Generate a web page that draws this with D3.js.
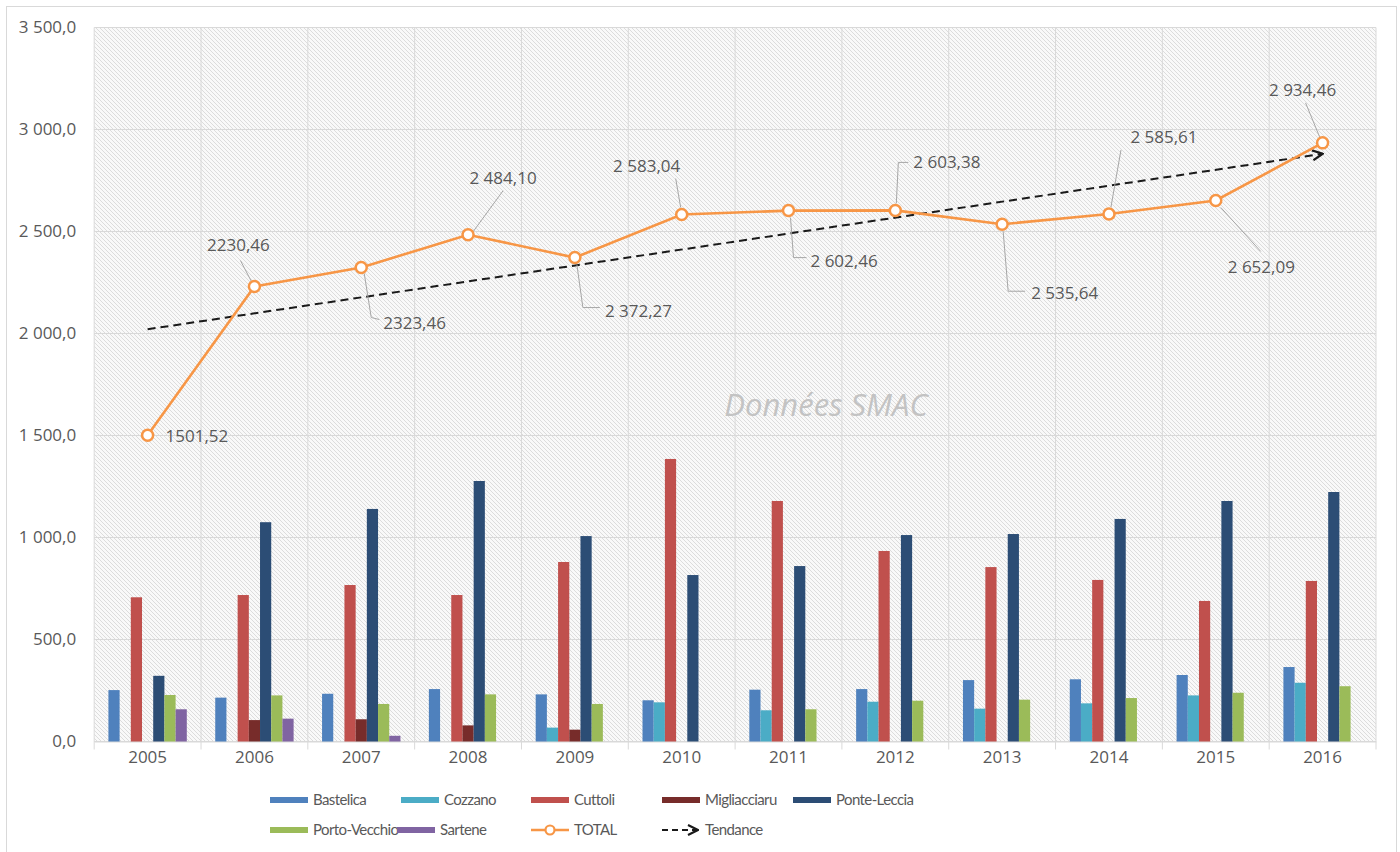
<!DOCTYPE html>
<html>
<head>
<meta charset="utf-8">
<script src="https://cdn.jsdelivr.net/npm/d3@7"></script>
<style>
  html, body { margin: 0; padding: 0; background: #ffffff; }
  svg { display: block; }
</style>
</head>
<body>
<svg id="chart" width="1400" height="852"></svg>
<script>
// ---- Data (tonnages per site and per year) ----
const years = ["2005","2006","2007","2008","2009","2010","2011","2012","2013","2014","2015","2016"];

const bastelica     = [252, 215, 234, 257, 231, 202, 254, 257, 301, 305, 326, 365];
const cozzano       = [0, 0, 0, 0, 68, 192, 153, 195, 161, 187, 226, 288];
const cuttoli       = [707, 718, 767, 718, 880, 1385, 1179, 934, 855, 792, 689, 787];
const migliacciaru  = [0, 105, 109, 79, 58, 0, 0, 0, 0, 0, 0, 0];
const ponteLeccia   = [322, 1075, 1140, 1277, 1007, 816, 860, 1012, 1017, 1091, 1179, 1223];
const portoVecchio  = [228, 226, 184, 231, 184, 0, 158, 200, 205, 213, 239, 271];
const sartene       = [158, 112, 28, 0, 0, 0, 0, 0, 0, 0, 0, 0];

const total = [1501.52, 2230.46, 2323.46, 2484.10, 2372.27, 2583.04, 2602.46, 2603.38, 2535.64, 2585.61, 2652.09, 2934.46];
// printed labels for the TOTAL points
const totalLabels = ["1501,52", "2230,46", "2323,46", "2 484,10", "2 372,27", "2 583,04", "2 602,46", "2 603,38", "2 535,64", "2 585,61", "2 652,09", "2 934,46"];

// trend line values at the first and last year
const tendance = [2020.7, 2880.8];

const yTicks = [0, 500, 1000, 1500, 2000, 2500, 3000, 3500];

const seriesNames  = ["Bastelica", "Cozzano", "Cuttoli", "Migliacciaru", "Ponte-Leccia", "Porto-Vecchio", "Sartene"];
const seriesValues = [bastelica, cozzano, cuttoli, migliacciaru, ponteLeccia, portoVecchio, sartene];
const seriesColors = ["#4F81BD", "#4BACC6", "#C0504D", "#772C2A", "#2C4D75", "#9BBB59", "#8064A2"];
const orange = "#F79646";

// ---- Layout ----
const svg = d3.select("#chart");
const plot = { left: 94.2, right: 1376, top: 27.5, bottom: 741.5 };

const x = d3.scaleBand().domain(years).range([plot.left, plot.right]).padding(0);
const xInner = d3.scaleBand().domain(seriesNames).range([0, x.bandwidth()])
  .paddingInner(0).paddingOuter(1.27);
const y = d3.scaleLinear().domain([0, 3500]).range([plot.bottom, plot.top]);

const fr = d3.formatLocale({ decimal: ",", thousands: " ", grouping: [3], currency: ["", " €"] });
const fmtTick = fr.format(",.1f");

const textColor = "#595959";
const gridColor = "#d9d9d9";
const font = "'Open Sans', sans-serif";

// ---- Defs: hatched plot background, arrow head ----
const defs = svg.append("defs");
const pat = defs.append("pattern")
  .attr("id", "hatch").attr("patternUnits", "userSpaceOnUse")
  .attr("width", 4).attr("height", 4);
pat.append("rect").attr("width", 4).attr("height", 4).attr("fill", "#f9f9f9");
pat.append("path")
  .attr("d", "M-1,-1 L5,5 M-1,3 L1,5 M3,-1 L5,1")
  .attr("stroke", "#dcdcdc").attr("stroke-width", 1);

defs.append("marker")
  .attr("id", "arrow").attr("viewBox", "0 0 12 12")
  .attr("refX", 11).attr("refY", 6)
  .attr("markerWidth", 12).attr("markerHeight", 12)
  .attr("markerUnits", "userSpaceOnUse")
  .attr("orient", "auto")
  .append("path").attr("d", "M1,1 L11,6 L1,11")
  .attr("fill", "none").attr("stroke", "#1a1a1a").attr("stroke-width", 2.2);

// chart frame
svg.append("rect")
  .attr("x", 6.5).attr("y", 6.5).attr("width", 1390).attr("height", 870)
  .attr("fill", "#ffffff").attr("stroke", "#d9d9d9").attr("stroke-width", 1);

// plot background
svg.append("rect")
  .attr("x", plot.left).attr("y", plot.top)
  .attr("width", plot.right - plot.left).attr("height", plot.bottom - plot.top)
  .attr("fill", "url(#hatch)");

// ---- Grid ----
const grid = svg.append("g");
grid.selectAll("line.h").data(yTicks).join("line")
  .attr("x1", plot.left).attr("x2", plot.right)
  .attr("y1", d => y(d)).attr("y2", d => y(d))
  .attr("stroke", gridColor).attr("stroke-width", 1);
const bounds = years.map(d => x(d)).concat([x(years[years.length - 1]) + x.bandwidth()]);
grid.selectAll("line.v").data(bounds).join("line")
  .attr("x1", d => d).attr("x2", d => d)
  .attr("y1", plot.top).attr("y2", plot.bottom + 8)
  .attr("stroke", gridColor).attr("stroke-width", 1);

// ---- Axes ----
const yAxis = svg.append("g")
  .attr("transform", `translate(${plot.left},0)`)
  .call(d3.axisLeft(y).tickValues(yTicks).tickFormat(fmtTick).tickSize(0).tickPadding(18));
yAxis.select(".domain").remove();
yAxis.selectAll("text")
  .attr("fill", textColor).style("font-family", font).style("font-size", "17px");

const xAxis = svg.append("g")
  .attr("transform", `translate(0,${plot.bottom})`)
  .call(d3.axisBottom(x).tickSize(0).tickPadding(9));
xAxis.select(".domain").attr("stroke", gridColor);
xAxis.selectAll("text")
  .attr("fill", textColor).style("font-family", font).style("font-size", "17px");

// ---- Watermark ----
svg.append("text")
  .attr("x", 826).attr("y", 416)
  .attr("text-anchor", "middle")
  .style("font-family", font).style("font-style", "italic")
  .style("font-size", "31px").attr("fill", "#c3c3c3")
  .text("Données SMAC");

// ---- Bars ----
const barData = [];
years.forEach((yr, i) => {
  seriesNames.forEach((s, k) => {
    const v = seriesValues[k][i];
    if (v > 0) barData.push({ year: yr, series: s, value: v, color: seriesColors[k] });
  });
});
svg.append("g").selectAll("rect").data(barData).join("rect")
  .attr("x", d => x(d.year) + xInner(d.series))
  .attr("width", xInner.bandwidth())
  .attr("y", d => y(d.value))
  .attr("height", d => y(0) - y(d.value))
  .attr("fill", d => d.color);

// ---- Trend line ----
svg.append("line")
  .attr("x1", x(years[0]) + x.bandwidth() / 2).attr("y1", y(tendance[0]))
  .attr("x2", x(years[years.length - 1]) + x.bandwidth() / 2).attr("y2", y(tendance[1]))
  .attr("stroke", "#1a1a1a").attr("stroke-width", 2)
  .attr("stroke-dasharray", "8,5")
  .attr("marker-end", "url(#arrow)");

// ---- TOTAL line ----
const pts = total.map((v, i) => ({ x: x(years[i]) + x.bandwidth() / 2, y: y(v), v, i }));
svg.append("path")
  .attr("d", d3.line().x(d => d.x).y(d => d.y)(pts))
  .attr("fill", "none").attr("stroke", orange).attr("stroke-width", 2.6);

// label placement relative to each point: text anchor offset and leader polyline
const labelLayout = [
  { tx: 18,  ty: 1,   anchor: "start",  leader: [] },
  { tx: -16, ty: -41, anchor: "middle", leader: [[-14, -26], [-3, -5]] },
  { tx: 22,  ty: 56,  anchor: "start",  leader: [[3, 6], [10, 50], [18, 52]] },
  { tx: 35,  ty: -57, anchor: "middle", leader: [[35, -44], [5, -3]] },
  { tx: 30,  ty: 53,  anchor: "start",  leader: [[2, 7], [8, 50], [25, 50]] },
  { tx: -35, ty: -49, anchor: "middle", leader: [[-6, -36], [-1, -7]] },
  { tx: 22,  ty: 50,  anchor: "start",  leader: [[2, 7], [5, 47], [18, 47]] },
  { tx: 18,  ty: -48, anchor: "start",  leader: [[1, -7], [3, -48], [13, -48]] },
  { tx: 29,  ty: 69,  anchor: "start",  leader: [[1, 7], [6, 67], [23, 67]] },
  { tx: 55,  ty: -77, anchor: "middle", leader: [[12, -64], [2, -7]] },
  { tx: 12,  ty: 67,  anchor: "start",  leader: [[5, 7], [45, 51]] },
  { tx: -20, ty: -53, anchor: "middle", leader: [[-17, -40], [-3, -6]] }
];

const labels = svg.append("g");
pts.forEach(p => {
  const L = labelLayout[p.i];
  if (L.leader.length > 1) {
    labels.append("polyline")
      .attr("points", L.leader.map(q => [p.x + q[0], p.y + q[1]].join(",")).join(" "))
      .attr("fill", "none").attr("stroke", "#a6a6a6").attr("stroke-width", 1);
  }
  labels.append("text")
    .attr("x", p.x + L.tx).attr("y", p.y + L.ty)
    .attr("dy", "0.35em").attr("text-anchor", L.anchor)
    .style("font-family", font).style("font-size", "17px")
    .attr("fill", textColor)
    .text(totalLabels[p.i]);
});

svg.append("g").selectAll("circle").data(pts).join("circle")
  .attr("cx", d => d.x).attr("cy", d => d.y).attr("r", 5.5)
  .attr("fill", "#ffffff").attr("stroke", orange).attr("stroke-width", 2.5);

// ---- Legend ----
const legendItems = [
  { name: "Bastelica",     kind: "bar",   color: seriesColors[0], x: 270, row: 0 },
  { name: "Cozzano",       kind: "bar",   color: seriesColors[1], x: 401, row: 0 },
  { name: "Cuttoli",       kind: "bar",   color: seriesColors[2], x: 531, row: 0 },
  { name: "Migliacciaru",  kind: "bar",   color: seriesColors[3], x: 662, row: 0 },
  { name: "Ponte-Leccia",  kind: "bar",   color: seriesColors[4], x: 793, row: 0 },
  { name: "Porto-Vecchio", kind: "bar",   color: seriesColors[5], x: 270, row: 1 },
  { name: "Sartene",       kind: "bar",   color: seriesColors[6], x: 397, row: 1 },
  { name: "TOTAL",         kind: "line",  color: orange,          x: 531, row: 1 },
  { name: "Tendance",      kind: "trend", color: "#1a1a1a",       x: 662, row: 1 }
];
const rowY = [800, 830];
const lg = svg.append("g");
legendItems.forEach(it => {
  const cy = rowY[it.row];
  if (it.kind === "bar") {
    lg.append("rect").attr("x", it.x).attr("y", cy - 3).attr("width", 38).attr("height", 6).attr("fill", it.color);
  } else if (it.kind === "line") {
    lg.append("line").attr("x1", it.x).attr("x2", it.x + 38).attr("y1", cy).attr("y2", cy)
      .attr("stroke", it.color).attr("stroke-width", 2.5);
    lg.append("circle").attr("cx", it.x + 19).attr("cy", cy).attr("r", 4.5)
      .attr("fill", "#fff").attr("stroke", it.color).attr("stroke-width", 2.2);
  } else {
    lg.append("line").attr("x1", it.x).attr("x2", it.x + 36).attr("y1", cy).attr("y2", cy)
      .attr("stroke", it.color).attr("stroke-width", 2).attr("stroke-dasharray", "6,4")
      .attr("marker-end", "url(#arrow)");
  }
  lg.append("text").attr("x", it.x + 43).attr("y", cy).attr("dy", "0.35em")
    .style("font-family", "Lato, sans-serif").style("font-size", "15px")
    .style("letter-spacing", "-0.6px")
    .attr("fill", textColor).text(it.name);
});
</script>
</body>
</html>
